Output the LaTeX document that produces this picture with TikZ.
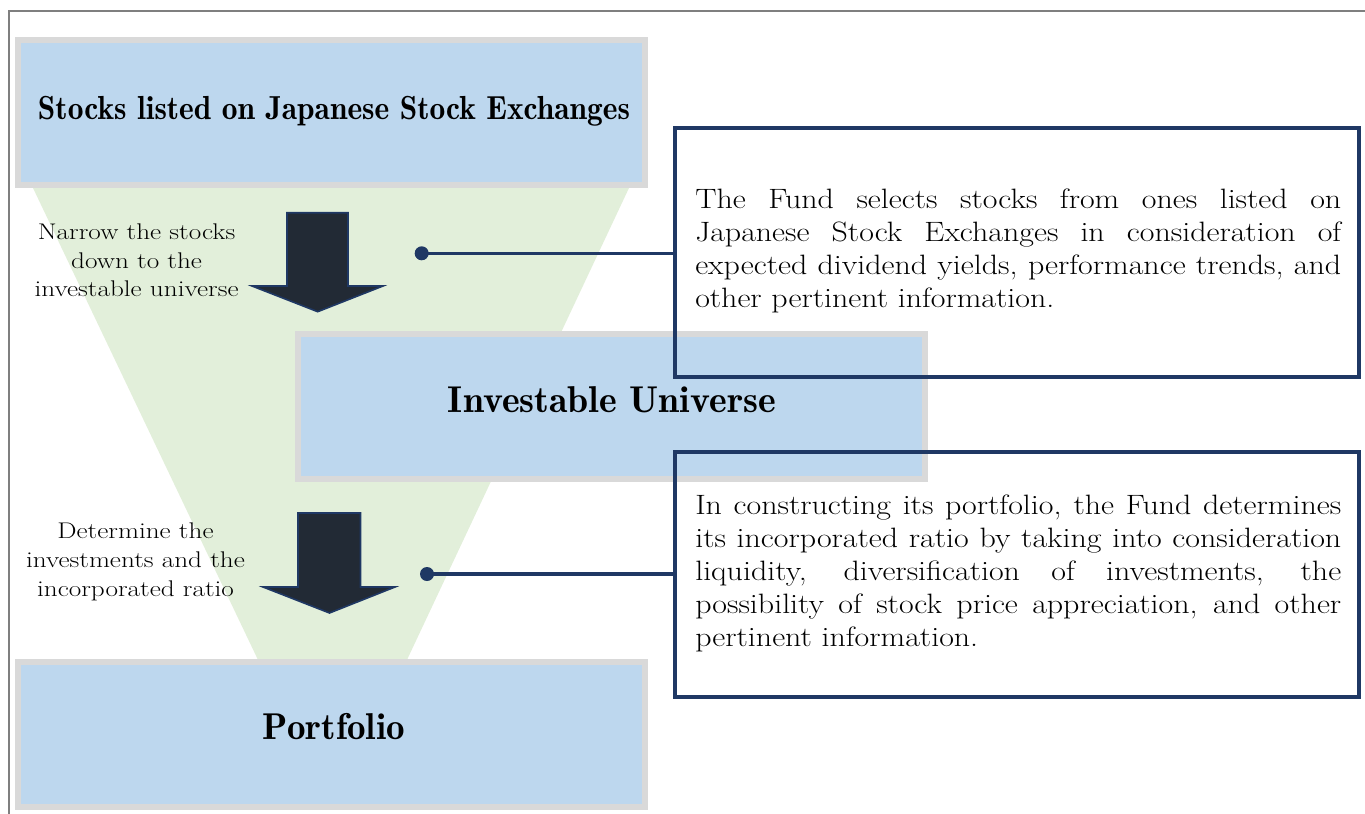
\documentclass[tikz,border=0pt]{standalone}
\usepackage{graphicx}
\definecolor{boxgray}{HTML}{D9D9D9}
\definecolor{boxblue}{HTML}{BDD7EE}
\definecolor{funnelgreen}{HTML}{E2EFDA}
\definecolor{navy}{HTML}{1F3864}
\definecolor{arrowfill}{HTML}{222A35}
\definecolor{framegray}{HTML}{7F7F7F}
\newcommand{\lbltxt}[1]{\scalebox{1.2}[1]{\fontsize{17}{20}\selectfont #1}}
\newcommand{\paratxt}[1]{\scalebox{1.14}[1]{\parbox[t]{425pt}{\fontsize{21}{24.8}\selectfont #1}}}
\newcommand{\jl}[1]{\makebox[\linewidth][s]{#1}\\}
\begin{document}
\begin{tikzpicture}[x=0.75pt,y=-0.75pt,
  stagebox/.style={draw=boxgray,fill=boxblue,line width=4.5pt,minimum width=470.25pt,minimum height=108.75pt,inner sep=0pt},
  notebox/.style={draw=navy,line width=2.6pt,minimum width=513pt,inner sep=0pt},
  dotnode/.style={circle,fill=navy,minimum size=10.5pt,inner sep=0pt},
  conn/.style={navy,line width=2.4pt},
  bigarrow/.style={fill=arrowfill,draw=navy,line width=1.2pt,line join=miter},
  titletext/.style={anchor=base,inner sep=0pt},
  labeltext/.style={anchor=base,inner sep=0pt},
  paratext/.style={anchor=base west,inner sep=0pt},
]
\useasboundingbox (0,0) rectangle (1365,814);
% funnel
\fill[funnelgreen] (33,188) -- (629,188) -- (406,662) -- (259,662) -- cycle;
% frame
\draw[framegray,line width=1.2pt] (1365,11) -- (9,11) -- (9,814);
% stage boxes
\node[stagebox] (top) at (331.5,112.5) {};
\node[stagebox] (port) at (331.5,734.5) {};
\node[stagebox] (univ) at (611.5,406.5) {};
\node[titletext] (ttop) at (334,119) {\resizebox{444pt}{\height}{\fontsize{25}{30}\fontseries{b}\selectfont Stocks listed on Japanese Stock Exchanges}};
\node[titletext] (tuniv) at (612,412.7) {\resizebox{246pt}{\height}{\fontsize{28}{32}\fontseries{b}\selectfont Investable Universe}};
\node[titletext] (tport) at (334,739) {\resizebox{106.5pt}{\height}{\fontsize{28}{32}\fontseries{b}\selectfont Portfolio}};
% arrows
\filldraw[bigarrow] (287,212.7) -- (348,212.7) -- (348,286) -- (383,286) -- (317.7,311.7) -- (252,286) -- (287,286) -- cycle;
\filldraw[bigarrow] (298,513) -- (360.5,513) -- (360.5,587) -- (395,587) -- (329.5,613) -- (263,587) -- (298,587) -- cycle;
% left labels
\node[labeltext] (l1a) at (136.6,239.3) {\lbltxt{Narrow the stocks}};
\node[labeltext] (l1b) at (136.6,268) {\lbltxt{down to the}};
\node[labeltext] (l1c) at (136.6,296.7) {\lbltxt{investable universe}};
\node[labeltext] (l2a) at (135.5,538.3) {\lbltxt{Determine the}};
\node[labeltext] (l2b) at (135.5,567) {\lbltxt{investments and the}};
\node[labeltext] (l2c) at (135.5,596) {\lbltxt{incorporated ratio}};
% note boxes
\node[notebox,minimum height=186.75pt] (n1) at (1017,252.5) {};
\node[notebox,minimum height=183.75pt] (n2) at (1017,574.5) {};
% connectors
\node[dotnode] (d1) at (421.7,253.3) {};
\node[dotnode] (d2) at (427,574) {};
\draw[conn] (d1.center) -- (n1.west |- d1.center);
\draw[conn] (d2.center) -- (n2.west |- d2.center);
% paragraphs
\node[paratext] (p1) at (695,208.3) {\paratxt{%
\jl{The Fund selects stocks from ones listed on}
\jl{Japanese Stock Exchanges in consideration of}
\jl{expected dividend yields, performance trends, and}
other pertinent information.}};
\node[paratext] (p2) at (695,514) {\paratxt{%
\jl{In constructing its portfolio, the Fund determines}
\jl{its incorporated ratio by taking into consideration}
\jl{liquidity, diversification of investments, the}
\jl{possibility of stock price appreciation, and other}
pertinent information.}};
\end{tikzpicture}
\end{document}
